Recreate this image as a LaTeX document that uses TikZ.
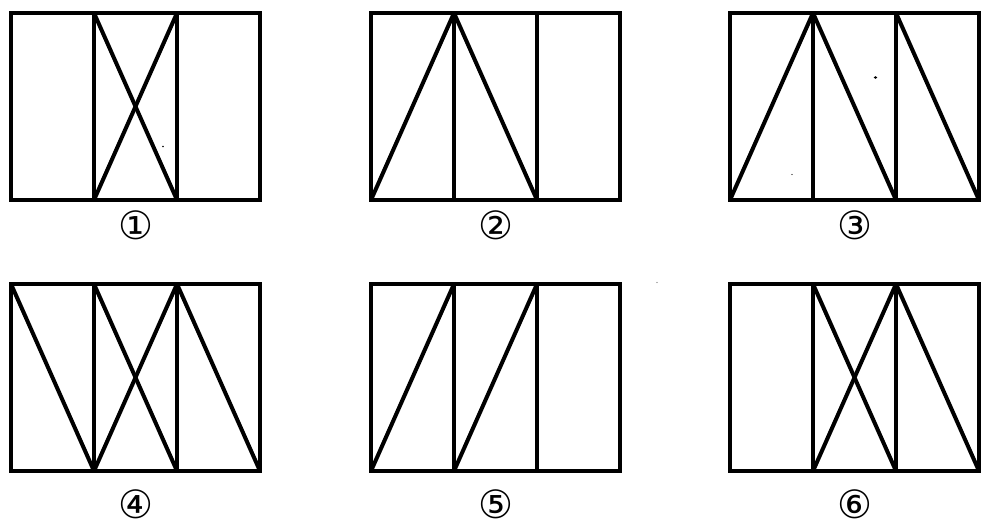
\documentclass[tikz,border=0pt]{standalone}
\usepackage{fontspec}
\newfontfamily\circfont{DejaVu Sans}
\tikzset{
  frame/.style={line width=4.3pt, line join=miter, black},
  diag/.style={line width=4pt, line cap=butt, black},
  lab/.style={font=\circfont\fontsize{39}{39}\selectfont, inner sep=0pt, anchor=center},
  speck/.style={fill=black, draw=none}
}
\newcommand{\panelfig}[3]{%
  % #1 left x, #2 top y, #3 name prefix
  \coordinate (#3a) at (#1,#2);
  \coordinate (#3b) at ({#1+83},#2);
  \coordinate (#3c) at ({#1+166},#2);
  \coordinate (#3d) at ({#1+249},#2);
  \coordinate (#3A) at (#1,{#2+187});
  \coordinate (#3B) at ({#1+83},{#2+187});
  \coordinate (#3C) at ({#1+166},{#2+187});
  \coordinate (#3D) at ({#1+249},{#2+187});
}
\newcommand{\panelframe}[1]{%
  \draw[frame] (#1a) rectangle (#1D);
  \draw[frame] (#1b) -- (#1B);
  \draw[frame] (#1c) -- (#1C);
}
\begin{document}
\begin{tikzpicture}[x=1pt,y=-1pt]
\useasboundingbox[fill=white] (0,0) rectangle (988,530);
\panelfig{11}{13}{p}
\panelfig{371}{13}{q}
\panelfig{730}{13}{r}
\panelfig{11}{284}{s}
\panelfig{371}{284}{t}
\panelfig{730}{284}{u}
% figure 1
\begin{scope}
\clip (pa) rectangle (pD);
\draw[diag] (pb) -- (pC);
\draw[diag] (pc) -- (pB);
\end{scope}
% figure 2
\begin{scope}
\clip (qa) rectangle (qD);
\draw[diag] (qA) -- (qb);
\draw[diag] (qb) -- (qC);
\end{scope}
% figure 3
\begin{scope}
\clip (ra) rectangle (rD);
\draw[diag] (rA) -- (rb);
\draw[diag] (rb) -- (rC);
\draw[diag] (rc) -- (rD);
\end{scope}
% figure 4
\begin{scope}
\clip (sa) rectangle (sD);
\draw[diag] (sa) -- (sB);
\draw[diag] (sB) -- (sc);
\draw[diag] (sc) -- (sD);
\draw[diag] (sb) -- (sC);
\end{scope}
% figure 5
\begin{scope}
\clip (ta) rectangle (tD);
\draw[diag] (tA) -- (tb);
\draw[diag] (tB) -- (tc);
\end{scope}
% figure 6
\begin{scope}
\clip (ua) rectangle (uD);
\draw[diag] (ub) -- (uC);
\draw[diag] (uc) -- (uB);
\draw[diag] (uc) -- (uD);
\end{scope}
\panelframe{p}
\panelframe{q}
\panelframe{r}
\panelframe{s}
\panelframe{t}
\panelframe{u}
% labels
\node[lab] (l1) at (136,225) {①};
\node[lab] (l2) at (496,225) {②};
\node[lab] (l3) at (855,225) {③};
\node[lab] (l4) at (136,504) {④};
\node[lab] (l5) at (496,504) {⑤};
\node[lab] (l6) at (855,504) {⑥};
% specks
\fill[speck] (163,146.5) circle (0.8);
\fill[speck] (875.5,77.5) ellipse (1.8 and 1.3);
\fill[speck] (792,174.5) circle (0.7);
\fill[black!60] (657,282.5) circle (0.7);
\end{tikzpicture}
\end{document}
